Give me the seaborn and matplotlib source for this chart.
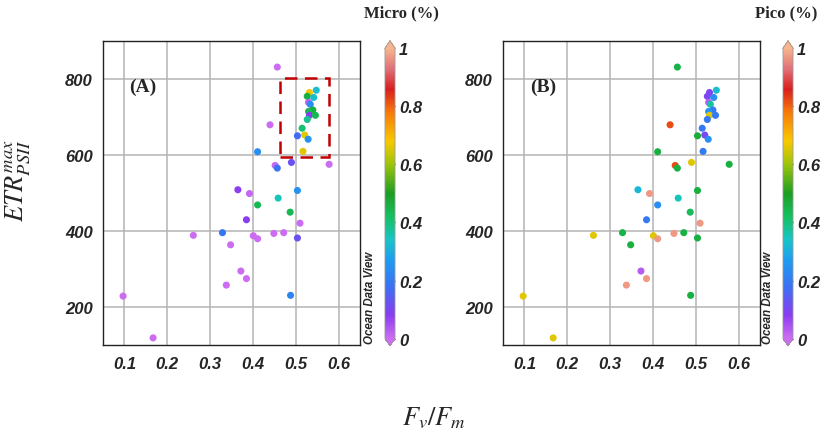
import numpy as np
import matplotlib
matplotlib.use("Agg")
import matplotlib.pyplot as plt
import seaborn as sns
from matplotlib.colors import LinearSegmentedColormap, Normalize
from matplotlib.cm import ScalarMappable
from matplotlib.patches import Rectangle
from matplotlib.ticker import MultipleLocator

# ==============================
# DATA
# ==============================
fv_fm = [0.457, 0.532, 0.548, 0.527, 0.542, 0.530, 0.534, 0.540, 0.530, 0.532,
         0.546, 0.527, 0.515, 0.504, 0.521, 0.529, 0.517, 0.440, 0.411, 0.452,
         0.457, 0.490, 0.578, 0.365, 0.392, 0.459, 0.411, 0.504, 0.487, 0.510,
         0.385, 0.329, 0.261, 0.401, 0.411, 0.449, 0.472, 0.504, 0.348, 0.372,
         0.385, 0.338, 0.488, 0.097, 0.167]
etr_max = [832, 765, 771, 755, 752, 739, 734, 719, 715, 705,
           705, 694, 671, 651, 653, 642, 610, 680, 609, 573,
           566, 581, 576, 509, 499, 487, 469, 507, 450, 421,
           430, 396, 389, 388, 380, 394, 396, 382, 364, 295,
           275, 258, 231, 229, 119]
micro = [0.00, 0.68, 0.33, 0.46, 0.33, 0.02, 0.24, 0.46, 0.44, 0.08,
         0.44, 0.38, 0.41, 0.17, 0.66, 0.25, 0.66, 0.00, 0.24, 0.01,
         0.18, 0.12, 0.00, 0.08, 0.01, 0.35, 0.44, 0.25, 0.44, 0.00,
         0.08, 0.19, 0.00, 0.00, 0.00, 0.00, 0.00, 0.12, 0.00, 0.00,
         0.00, 0.00, 0.22, 0.00, 0.00]
pico = [0.45, 0.10, 0.33, 0.10, 0.24, 0.03, 0.37, 0.20, 0.25, 0.66,
        0.20, 0.20, 0.20, 0.47, 0.10, 0.24, 0.20, 0.82, 0.46, 0.82,
        0.46, 0.66, 0.46, 0.32, 0.97, 0.35, 0.24, 0.46, 0.43, 0.97,
        0.20, 0.45, 0.66, 0.66, 0.97, 0.97, 0.46, 0.46, 0.46, 0.03,
        0.97, 0.97, 0.46, 0.66, 0.66]

panels = [("(A)", "Micro (%)", micro), ("(B)", "Pico (%)", pico)]
cbar_ticks = [0, 0.2, 0.4, 0.6, 0.8, 1]
cbar_labels = ["0", "0.2", "0.4", "0.6", "0.8", "1"]

# ==============================
# ODV-like colour map
# ==============================
odv_colors = [
    (0.00, "#cc6cf2"), (0.08, "#8a3cf0"), (0.18, "#3a72f2"),
    (0.27, "#1e9cf0"), (0.34, "#18c4c8"), (0.42, "#16c060"),
    (0.50, "#1c9e22"), (0.60, "#9cc40c"), (0.68, "#f8c800"),
    (0.78, "#f87a0a"), (0.86, "#d81e1e"), (0.93, "#e0707a"),
    (1.00, "#f8b48c"),
]
cmap = LinearSegmentedColormap.from_list("odv", odv_colors)
norm = Normalize(0, 1)

sns.set_style("white")
plt.rcParams['mathtext.fontset'] = 'stix'

fig = plt.figure(figsize=(8.29, 4.31), dpi=100)

ax_pos = [[0.1242, 0.197, 0.310, 0.705], [0.6068, 0.197, 0.310, 0.705]]
cb_pos = [[0.4644, 0.195, 0.0121, 0.708], [0.9445, 0.195, 0.0121, 0.708]]
title_x = [0.484, 0.948]

tick_font = dict(family="Liberation Sans", weight="bold", style="italic", size=12)

for i, (tag, cname, vals) in enumerate(panels):
    ax = fig.add_axes(ax_pos[i])
    sns.scatterplot(x=fv_fm, y=etr_max, hue=vals, palette=cmap, hue_norm=norm,
                    s=26, linewidth=0, legend=False, ax=ax, zorder=3)
    ax.set_xlim(0.05, 0.65)
    ax.set_ylim(100, 900)
    ax.xaxis.set_major_locator(MultipleLocator(0.1))
    ax.xaxis.set_minor_locator(MultipleLocator(0.05))
    ax.yaxis.set_major_locator(MultipleLocator(200))
    ax.yaxis.set_minor_locator(MultipleLocator(100))
    ax.grid(True, which="major", color="#b4b4b4", linewidth=1.1, zorder=0)
    ax.set_axisbelow(True)
    ax.tick_params(which="major", direction="out", length=4, width=0.8, color="#555555")
    ax.tick_params(which="minor", direction="out", length=2.5, width=0.6, color="#777777")
    ax.set_xticks([0.1, 0.2, 0.3, 0.4, 0.5, 0.6])
    ax.set_xticklabels(["0.1", "0.2", "0.3", "0.4", "0.5", "0.6"], fontdict=tick_font)
    ax.set_yticks([200, 400, 600, 800])
    ax.set_yticklabels(["200", "400", "600", "800"], fontdict=tick_font)
    for sp in ax.spines.values():
        sp.set_color("#222222")
        sp.set_linewidth(1.0)
    ax.set_xlabel("")
    ax.set_ylabel("")
    ax.text(0.156, 0.852, tag, transform=ax.transAxes, ha="center", va="center",
            family="Liberation Serif", weight="bold", fontsize=14)

    if i == 0:
        ax.add_patch(Rectangle((0.463, 595), 0.114, 208, fill=False,
                               edgecolor="#c00000", linestyle=(0, (5, 3)),
                               linewidth=1.8, zorder=4))

    # colour bar
    cax = fig.add_axes(cb_pos[i])
    sm = ScalarMappable(norm=norm, cmap=cmap)
    cb = fig.colorbar(sm, cax=cax, extend="both", extendfrac=0.025)
    cb.outline.set_edgecolor("#999999")
    cb.outline.set_linewidth(0.6)
    cb.set_ticks(cbar_ticks)
    cb.set_ticklabels(cbar_labels)
    for t in cb.ax.get_yticklabels():
        t.set_fontfamily("Liberation Sans")
        t.set_fontweight("bold")
        t.set_fontstyle("italic")
        t.set_fontsize(12)
    cb.ax.tick_params(direction="in", length=3, width=1, left=True, right=True,
                      color="#222222", pad=3)

    fig.text(title_x[i], 0.97, cname, ha="center", va="center",
             family="Liberation Serif", weight="bold", fontsize=12)
    fig.text(cb_pos[i][0] - 0.018, 0.202, "Ocean Data View", rotation=90,
             ha="center", va="bottom", family="Liberation Sans", style="italic",
             weight="bold", fontsize=8.3)

fig.text(0.022, 0.582, r"$ETR^{max}_{PSII}$", rotation=90, ha="center",
         va="center", fontsize=19)
fig.text(0.524, 0.03, r"$F_v/F_m$", ha="center", va="center", fontsize=19)

fig.savefig("out.png", dpi=100)
